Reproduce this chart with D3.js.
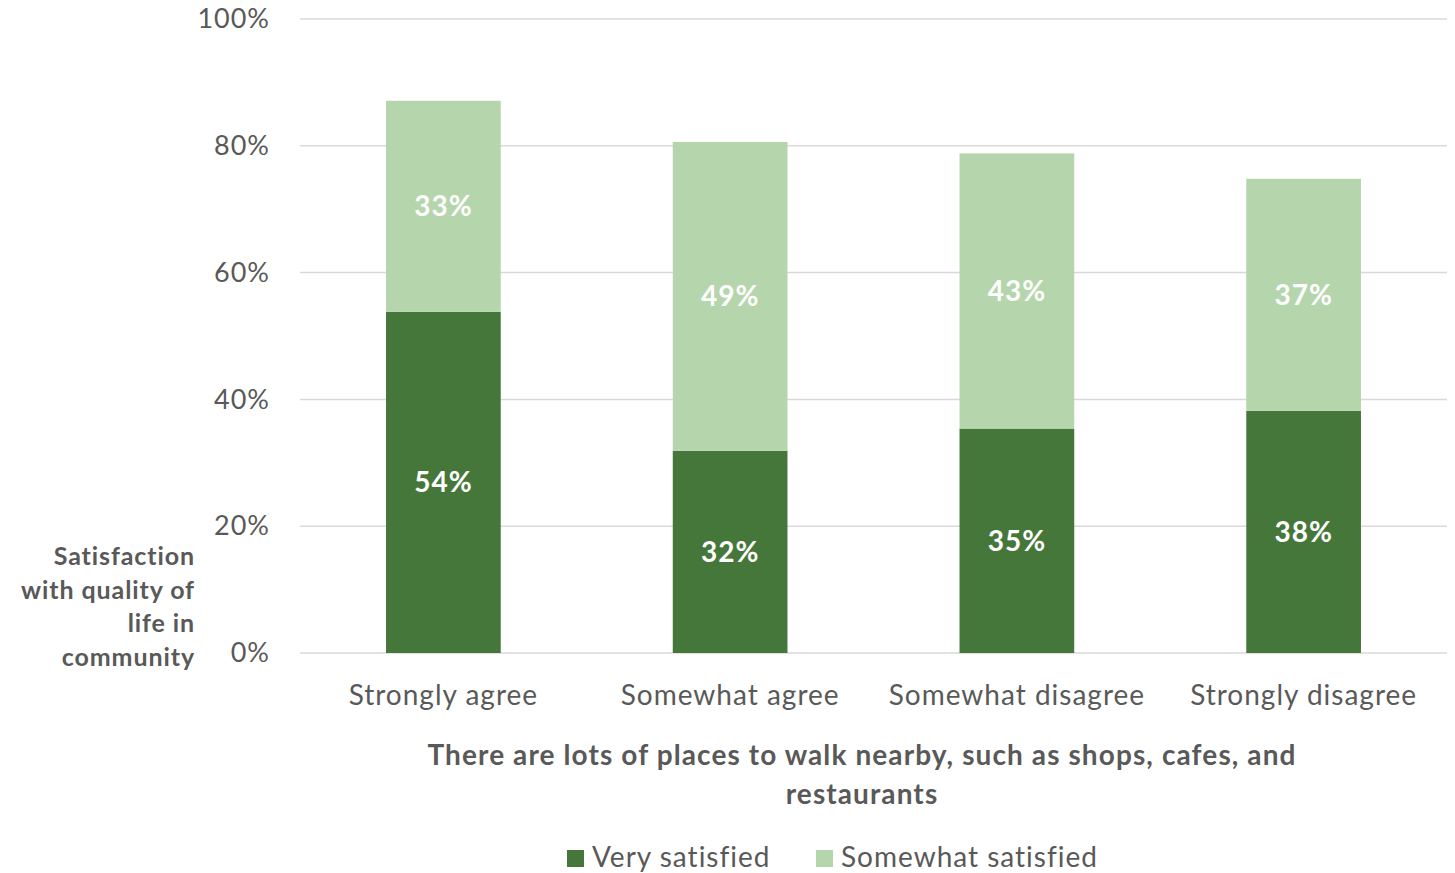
<!DOCTYPE html>
<html>
<head>
<meta charset="utf-8">
<script src="https://cdn.jsdelivr.net/npm/d3@7"></script>
<style>
  html, body { margin: 0; padding: 0; background: #fff; }
  svg { display: block; }
  text { font-family: Lato, "Open Sans", sans-serif; }
</style>
</head>
<body>
<svg id="chart" width="1455" height="873"></svg>
<script>
// Agreement with the statement about walkable places nearby
const categories = ["Strongly agree", "Somewhat agree", "Somewhat disagree", "Strongly disagree"];
// Share satisfied with quality of life in the community (%)
const verySatisfied = [53.8, 31.9, 35.4, 38.2];
const somewhatSatisfied = [33.3, 48.7, 43.4, 36.6];
const seriesNames = ["Very satisfied", "Somewhat satisfied"];
const yTicks = [0, 20, 40, 60, 80, 100];

const colors = ["#46773A", "#B5D6AC"];
const textGray = "#595959";

const svg = d3.select("#chart");
const margin = { left: 300, right: 8, top: 19 };
const W = 1455;
const plotBottom = 653;

const x = d3.scaleBand()
  .domain(categories)
  .range([margin.left, W - margin.right])
  .paddingInner(0.6)
  .paddingOuter(0.3);

const y = d3.scaleLinear().domain([0, 100]).range([plotBottom, margin.top]);

// gridlines
svg.append("g")
  .selectAll("line")
  .data(yTicks)
  .join("line")
  .attr("x1", margin.left)
  .attr("x2", W - margin.right)
  .attr("y1", d => y(d))
  .attr("y2", d => y(d))
  .attr("stroke", "#D9D9D9")
  .attr("stroke-width", 1.5);

// y axis labels
const yAxis = d3.axisLeft(y).tickValues(yTicks).tickFormat(d => d + "%").tickSize(0).tickPadding(30);
const yg = svg.append("g").attr("transform", `translate(${margin.left},0)`).call(yAxis);
yg.select(".domain").remove();
yg.selectAll("text")
  .attr("fill", textGray)
  .style("font-size", "27px")
  .style("letter-spacing", "1px")
  .style("font-family", "Lato, sans-serif");

// stacked data
const rows = categories.map((c, i) => ({ cat: c, v0: verySatisfied[i], v1: somewhatSatisfied[i] }));
const stack = d3.stack().keys(["v0", "v1"])(rows);

const layers = svg.append("g").selectAll("g")
  .data(stack)
  .join("g")
  .attr("fill", (d, i) => colors[i]);

layers.selectAll("rect")
  .data(d => d)
  .join("rect")
  .attr("x", d => x(d.data.cat))
  .attr("width", x.bandwidth())
  .attr("y", d => y(d[1]))
  .attr("height", d => y(d[0]) - y(d[1]));

// value labels
layers.selectAll("text")
  .data(d => d)
  .join("text")
  .attr("x", d => x(d.data.cat) + x.bandwidth() / 2)
  .attr("y", d => (y(d[0]) + y(d[1])) / 2)
  .attr("dy", "0.35em")
  .attr("text-anchor", "middle")
  .attr("fill", "#fff")
  .style("font-size", "28px")
  .style("letter-spacing", "1px")
  .style("font-weight", "bold")
  .text(d => Math.round(d[1] - d[0]) + "%");

// x axis category labels
const xAxis = d3.axisBottom(x).tickSize(0).tickPadding(32);
const xg = svg.append("g").attr("transform", `translate(0,${plotBottom})`).call(xAxis);
xg.select(".domain").remove();
xg.selectAll("text")
  .attr("fill", textGray)
  .style("font-size", "28px")
  .style("letter-spacing", "1px")
  .style("font-family", "Lato, sans-serif");

// x axis title
const xTitle = svg.append("text")
  .attr("text-anchor", "middle")
  .attr("fill", textGray)
  .style("font-size", "28px")
  .style("letter-spacing", "1.1px")
  .style("font-weight", "bold");
xTitle.append("tspan").attr("x", 862).attr("y", 765)
  .text("There are lots of places to walk nearby, such as shops, cafes, and");
xTitle.append("tspan").attr("x", 862).attr("y", 804).text("restaurants");

// y axis title
const yTitleLines = ["Satisfaction", "with quality of", "life in", "community"];
svg.append("text")
  .attr("text-anchor", "end")
  .attr("fill", textGray)
  .style("font-size", "25px")
  .style("letter-spacing", "0.9px")
  .style("font-weight", "bold")
  .selectAll("tspan")
  .data(yTitleLines)
  .join("tspan")
  .attr("x", 195)
  .attr("y", (d, i) => 565 + i * 33.5)
  .text(d => d);

// legend
const legendItems = [{ name: seriesNames[0], x: 567, color: colors[0] }, { name: seriesNames[1], x: 816, color: colors[1] }];
const lg = svg.append("g");
lg.selectAll("rect")
  .data(legendItems)
  .join("rect")
  .attr("x", d => d.x)
  .attr("y", 850)
  .attr("width", 17)
  .attr("height", 17)
  .attr("fill", d => d.color);
lg.selectAll("text")
  .data(legendItems)
  .join("text")
  .attr("x", d => d.x + 25)
  .attr("y", 867)
  .attr("fill", textGray)
  .style("font-size", "28px")
  .style("letter-spacing", "1px")
  .text(d => d.name);
</script>
</body>
</html>
